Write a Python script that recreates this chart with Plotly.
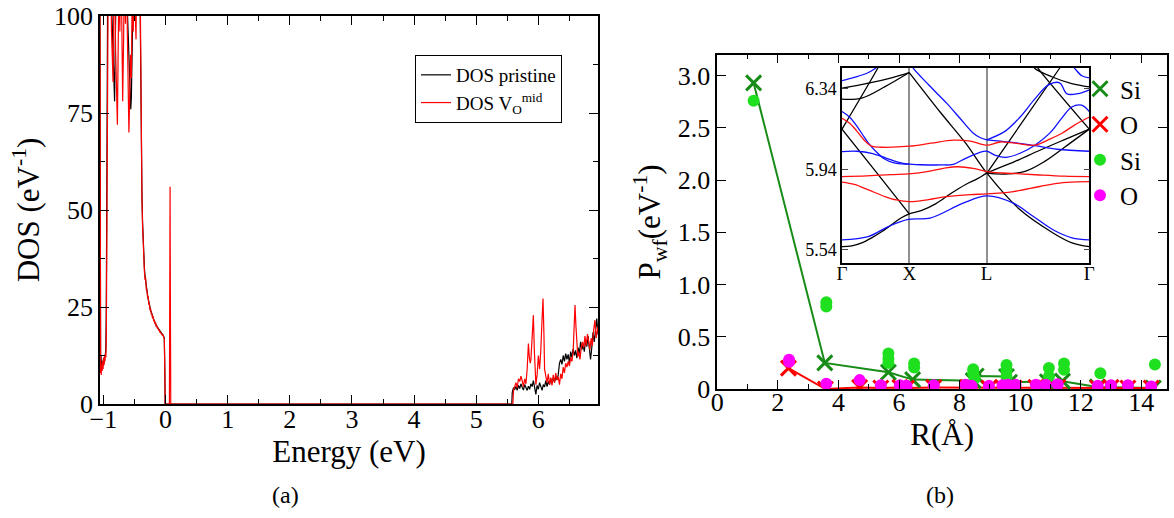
import plotly.graph_objects as go

FONT = "Liberation Serif"

# ---------------- Panel (a): DOS ----------------
E_pristine = [-1.06, -1.054, -1.05, -1.045, -1.04, -1.032, -1.025, -1.018, -1.01, -1.0, -0.99, -0.98, -0.97,
              -0.962, -0.955, -0.948, -0.94, -0.93, -0.91, -0.89, -0.87, -0.855, -0.84, -0.83, -0.82, -0.81,
              -0.795, -0.78, -0.76, -0.74, -0.72, -0.70, -0.68, -0.66, -0.64, -0.62, -0.60, -0.585, -0.57,
              -0.56, -0.55, -0.54, -0.52, -0.50, -0.48, -0.46, -0.44, -0.42, -0.41, -0.40, -0.39, -0.38,
              -0.37, -0.36, -0.35, -0.34, -0.33, -0.32, -0.31, -0.30, -0.29, -0.28, -0.27, -0.26, -0.25,
              -0.24, -0.23, -0.22, -0.21, -0.20, -0.19, -0.18, -0.17, -0.16, -0.15, -0.14, -0.13, -0.12,
              -0.11, -0.10, -0.09, -0.08, -0.07, -0.06, -0.05, -0.04, -0.03, -0.02, -0.012, -0.006, 0.2,
              5.5, 5.572, 5.58, 5.60, 5.62, 5.64, 5.66, 5.68, 5.70, 5.72, 5.74, 5.76, 5.78, 5.80, 5.82, 5.84,
              5.86, 5.88, 5.90, 5.92, 5.94, 5.96, 5.98, 6.00, 6.02, 6.04, 6.06, 6.08, 6.10, 6.12, 6.14, 6.16,
              6.18, 6.20, 6.22, 6.24, 6.26, 6.28, 6.30, 6.32, 6.34, 6.36, 6.38, 6.40, 6.42, 6.44, 6.46, 6.48,
              6.50, 6.52, 6.54, 6.56, 6.58, 6.60, 6.62, 6.64, 6.66, 6.68, 6.70, 6.72, 6.74, 6.76, 6.78, 6.80,
              6.82, 6.84, 6.86, 6.88, 6.90, 6.92, 6.94, 6.96]
DOS_pristine = [130, 65, 13, 10, 12.5, 10.5, 9, 11, 10, 11.5, 10.5, 12, 12.5,
                14, 22, 45, 80, 115, 125, 112, 103, 96, 88, 80, 78, 92,
                108, 102, 115, 106, 118, 104, 112, 100, 110, 104, 95, 86, 82,
                76, 79, 92, 108, 104, 118, 110, 125, 118, 104, 80, 62, 54,
                47, 42, 38, 35, 33, 31.5, 30.5, 29, 28.5, 27, 26.5, 25.5, 25,
                24, 23.8, 23, 22.5, 22.2, 21.8, 21.3, 21, 20.7, 20.3, 20, 19.8, 19.4,
                19.2, 18.9, 18.7, 18.5, 18.3, 18.1, 17.9, 17.7, 17.4, 17, 9, 0, 0,
                0, 0, 3, 4.2, 3.8, 4.5, 3.5, 4.8, 4, 5.2, 4.3, 3.6, 5.0, 4.2, 3.5, 4.6,
                3.8, 5.2, 4.5, 6.0, 4.0, 2.5, 4.8, 3.8, 5.5, 4.2, 3.5, 5.0, 4.4, 6.0, 4.5, 5.8,
                5.0, 6.5, 5.4, 6.8, 5.6, 7.0, 6.2, 7.5, 10.5, 11.5, 10.2, 12.5, 11, 13, 11.5, 12.8,
                10.5, 13.5, 12, 14.2, 12.5, 13.8, 11.8, 14.5, 13, 16, 14, 15.2, 13.5, 16.5, 14.8, 17.5,
                15, 11.5, 14.5, 18.5, 16, 20, 22, 18]

E_vac = [-1.06, -1.054, -1.05, -1.045, -1.04, -1.035, -1.028, -1.02, -1.012, -1.005, -0.998, -0.99, -0.982,
         -0.975, -0.968, -0.96, -0.953, -0.946, -0.94, -0.93, -0.915, -0.90, -0.885, -0.87, -0.855, -0.845,
         -0.835, -0.82, -0.805, -0.79, -0.775, -0.765, -0.75, -0.735, -0.72, -0.705, -0.69, -0.675, -0.66,
         -0.645, -0.63, -0.615, -0.60, -0.59, -0.578, -0.565, -0.55, -0.535, -0.52, -0.505, -0.49, -0.475,
         -0.46, -0.44, -0.42, -0.41, -0.40, -0.39, -0.38, -0.37, -0.36, -0.35, -0.34, -0.33, -0.32, -0.31,
         -0.30, -0.29, -0.28, -0.27, -0.26, -0.25, -0.24, -0.23, -0.22, -0.21, -0.20, -0.19, -0.18, -0.17,
         -0.16, -0.15, -0.14, -0.13, -0.12, -0.11, -0.10, -0.09, -0.08, -0.07, -0.06, -0.05, -0.04, -0.03,
         -0.02, -0.012, -0.006, 0.062, 0.068, 0.073, 0.078, 0.084, 0.2,
         5.5, 5.59, 5.60, 5.62, 5.64, 5.66, 5.68, 5.70, 5.72, 5.74, 5.76, 5.78, 5.80, 5.82, 5.84, 5.855,
         5.87, 5.88, 5.90, 5.92, 5.935, 5.95, 5.96, 5.98, 6.00, 6.02, 6.04, 6.06, 6.075, 6.09, 6.10, 6.12,
         6.14, 6.16, 6.18, 6.20, 6.22, 6.24, 6.26, 6.28, 6.30, 6.32, 6.34, 6.36, 6.38, 6.40, 6.42, 6.44,
         6.46, 6.48, 6.50, 6.52, 6.54, 6.56, 6.575, 6.59, 6.605, 6.62, 6.635, 6.65, 6.67, 6.69, 6.71, 6.73,
         6.75, 6.77, 6.79, 6.81, 6.83, 6.85, 6.87, 6.89, 6.91, 6.93, 6.95, 6.96]
DOS_vac = [135, 70, 14, 8, 11, 7.5, 10, 8.5, 11, 9, 12, 10, 12.5,
           11, 13, 12, 18, 40, 85, 120, 135, 108, 120, 96, 86, 83,
           100, 118, 92, 80, 72, 88, 110, 96, 125, 100, 78, 94, 115,
           98, 120, 96, 84, 70, 78, 90, 84, 110, 96, 120, 102, 94,
           125, 118, 130, 106, 79, 61, 53, 46, 41, 38.5, 34, 32, 32.5, 29.5,
           29.5, 27.5, 27.8, 25.6, 25.9, 24.2, 24.6, 23.1, 23.4, 22.1, 22.6, 21.3, 21.7, 20.6,
           21, 19.9, 20.2, 19.4, 19.6, 18.9, 19.1, 18.4, 18.6, 18.0, 18.2, 17.7, 17.8, 17.2,
           16.8, 8, 0, 0, 28, 56, 26, 0, 0,
           0, 0, 3.5, 4.5, 5.5, 4.2, 6.5, 5.8, 7.2, 6.0, 4.5, 6.5, 5.2, 9, 15.6, 12,
           10.5, 11.5, 18, 22.9, 14, 8, 5, 7.5, 12.5, 9, 14, 22, 27.2, 18, 9, 7.2,
           5.5, 7.8, 5.0, 6.8, 4.8, 7.5, 5.5, 8.0, 6.2, 7.0, 5.0, 7.8, 6.5, 9.5, 8, 10.5,
           9.5, 11.0, 9.8, 12.0, 11, 13.5, 18, 25.5, 20, 14, 12.2, 13.5, 11.5, 14.5, 16, 14.5,
           17.5, 15, 18, 16, 14, 17, 15, 19, 21.6, 17, 20, 20]

# ---------------- Panel (b): P_wf vs R ----------------
R_si_x = [1.2, 3.55, 5.65, 6.45, 8.45, 8.55, 9.55, 9.65, 10.9, 11.4, 12.55, 14.4]
P_si_x = [2.93, 0.25, 0.16, 0.09, 0.08, 0.125, 0.12, 0.065, 0.07, 0.075, 0.02, 0.01]

R_o_x = [2.35, 3.57, 4.7, 5.4, 6.03, 6.25, 7.15, 8.26, 8.97, 9.42, 9.8, 10.52, 10.85, 11.24,
         12.56, 13.0, 13.56, 14.33]
P_o_x = [0.2, 0.0, 0.015, 0.01, 0.015, 0.01, 0.015, 0.015, 0.01, 0.015, 0.01, 0.015, 0.01, 0.015,
         0.01, 0.015, 0.01, 0.01]

R_si_c = [1.2, 3.6, 3.6, 5.65, 5.65, 5.65, 6.5, 6.5, 8.45, 8.45, 8.5, 9.55, 9.55, 9.55, 10.95, 10.95,
          11.45, 11.45, 12.65, 14.45]
P_si_c = [2.76, 0.83, 0.79, 0.34, 0.29, 0.25, 0.245, 0.205, 0.19, 0.15, 0.10, 0.23, 0.18, 0.12, 0.2, 0.12,
          0.245, 0.185, 0.15, 0.235]

R_o_c = [2.37, 2.37, 3.6, 4.7, 5.4, 6.03, 6.25, 7.15, 8.2, 8.4, 8.97, 9.42, 9.6, 9.85, 10.52, 10.85,
         11.24, 12.56, 13.0, 13.56, 14.33]
P_o_c = [0.28, 0.26, 0.05, 0.085, 0.035, 0.035, 0.03, 0.035, 0.04, 0.03, 0.03, 0.035, 0.04, 0.04, 0.04,
         0.04, 0.045, 0.03, 0.035, 0.035, 0.025]

# ---------------- Inset: band structure ----------------
k_ticks = [0.0, 0.272, 0.585, 1.0]
k_labels = ["Γ", "X", "L", "Γ"]
E_ticks = [5.54, 5.94, 6.34]

bands_black = [
    ([0, 0.04, 0.08, 0.12, 0.16, 0.2, 0.24, 0.272, 0.32, 0.38, 0.44, 0.5, 0.55, 0.586, 0.7, 0.8, 0.9, 1.0],
     [5.556, 5.56, 5.575, 5.60, 5.63, 5.665, 5.70, 5.719, 5.735, 5.77, 5.82, 5.865, 5.895, 5.921, 5.98, 6.035, 6.088, 6.14]),
    ([0, 0.136, 0.272], [6.14, 5.93, 5.719]),
    ([0, 0.146, 0.16], [6.14, 6.446, 6.48]),
    ([0, 0.107, 0.2, 0.272], [6.343, 6.368, 6.395, 6.421]),
    ([0, 0.08, 0.174, 0.272], [6.289, 6.294, 6.351, 6.421]),
    ([0.272, 0.4, 0.5, 0.586, 0.72, 0.855, 0.93, 1.0], [6.421, 6.22, 6.07, 5.921, 5.739, 5.623, 5.575, 5.556]),
    ([0.586, 0.882, 0.9], [5.921, 6.446, 6.478]),
    ([0.586, 0.66, 0.74, 0.82, 0.9, 1.0], [5.921, 5.917, 5.93, 5.98, 6.05, 6.14]),
    ([0.77, 0.78, 0.848, 0.929, 1.0], [6.46, 6.441, 6.40, 6.366, 6.35]),
    ([0.785, 0.794, 1.0], [6.46, 6.441, 6.14]),
]
bands_blue = [
    ([0, 0.106, 0.187, 0.268, 0.356, 0.49, 0.586, 0.693, 0.774, 0.855, 0.93, 1.0],
     [5.59, 5.606, 5.656, 5.692, 5.698, 5.772, 5.808, 5.772, 5.706, 5.639, 5.60, 5.59]),
    ([0, 0.03, 0.06, 0.09, 0.107, 0.14, 0.174, 0.21, 0.241, 0.272],
     [6.227, 6.2, 6.155, 6.1, 6.07, 6.025, 5.99, 5.972, 5.967, 5.966]),
    ([0, 0.06, 0.12, 0.18, 0.23, 0.272], [6.028, 6.03, 6.02, 5.995, 5.975, 5.966]),
    ([0.272, 0.32, 0.4, 0.45, 0.5, 0.558, 0.586, 0.62, 0.66, 0.72, 0.78, 0.84, 0.888, 0.929, 0.969, 1.0],
     [5.966, 5.963, 5.962, 5.965, 5.995, 6.025, 6.03, 6.01, 6.0, 6.02, 6.06, 6.12, 6.193, 6.25, 6.259, 6.227]),
    ([0.28, 0.288, 0.35, 0.423, 0.477, 0.531, 0.56, 0.586],
     [6.46, 6.443, 6.36, 6.269, 6.194, 6.12, 6.097, 6.087]),
    ([0.586, 0.66, 0.72, 0.78, 0.835, 0.88, 0.91, 0.96, 1.0],
     [6.087, 6.13, 6.2, 6.29, 6.36, 6.37, 6.315, 6.318, 6.335]),
    ([0.586, 0.68, 0.78, 0.87, 1.0], [6.087, 6.075, 6.058, 6.04, 6.03]),
    ([0.92, 0.94, 0.97, 1.0], [6.47, 6.443, 6.405, 6.395]),
    ([0, 0.053, 0.107, 0.14, 0.16], [6.381, 6.398, 6.421, 6.446, 6.46]),
]
bands_red = [
    ([0, 0.05, 0.107, 0.174, 0.22, 0.272, 0.35, 0.423, 0.52, 0.586, 0.693, 0.8, 0.88, 0.95, 1.0],
     [5.877, 5.865, 5.838, 5.805, 5.788, 5.78, 5.79, 5.805, 5.815, 5.818, 5.83, 5.855, 5.872, 5.878, 5.879]),
    ([0, 0.1, 0.2, 0.272, 0.35, 0.42, 0.47, 0.53, 0.586, 0.65, 0.72, 0.8, 0.9, 1.0],
     [5.904, 5.908, 5.914, 5.918, 5.93, 5.948, 5.953, 5.945, 5.929, 5.922, 5.918, 5.912, 5.906, 5.904]),
    ([0, 0.03, 0.06, 0.09, 0.12, 0.16, 0.272, 0.36, 0.45, 0.52, 0.586, 0.64, 0.7, 0.78, 0.84, 0.888, 0.94, 1.0],
     [6.194, 6.17, 6.13, 6.085, 6.055, 6.05, 6.055, 6.07, 6.085, 6.08, 6.06, 6.076, 6.07, 6.06, 6.09, 6.118, 6.16, 6.2]),
]

fig = go.Figure()

# DOS traces
fig.add_trace(go.Scatter(x=E_pristine, y=DOS_pristine, mode="lines", name="DOS pristine",
                         line=dict(color="black", width=1.2), xaxis="x", yaxis="y", legend="legend"))
fig.add_trace(go.Scatter(x=E_vac, y=DOS_vac, mode="lines", name="DOS V<sub>O</sub><sup>mid</sup>",
                         line=dict(color="#ff0000", width=1.2), xaxis="x", yaxis="y", legend="legend"))

# Band structure traces
for kk, ee in bands_black:
    fig.add_trace(go.Scatter(x=kk, y=ee, mode="lines", line=dict(color="black", width=1.3, shape="spline"),
                             xaxis="x3", yaxis="y3", showlegend=False, hoverinfo="skip"))
for kk, ee in bands_blue:
    fig.add_trace(go.Scatter(x=kk, y=ee, mode="lines", line=dict(color="#1010ff", width=1.3, shape="spline"),
                             xaxis="x3", yaxis="y3", showlegend=False, hoverinfo="skip"))
for kk, ee in bands_red:
    fig.add_trace(go.Scatter(x=kk, y=ee, mode="lines", line=dict(color="#ff1010", width=1.3, shape="spline"),
                             xaxis="x3", yaxis="y3", showlegend=False, hoverinfo="skip"))

DG = "#178c17"
LG = "#1fe01f"
# P_wf traces
fig.add_trace(go.Scatter(x=R_si_x, y=P_si_x, mode="lines", line=dict(color=DG, width=2),
                         xaxis="x2", yaxis="y2", showlegend=False))
fig.add_trace(go.Scatter(x=R_o_x, y=P_o_x, mode="lines", line=dict(color="#ff0000", width=2),
                         xaxis="x2", yaxis="y2", showlegend=False))
fig.add_trace(go.Scatter(x=R_si_x, y=P_si_x, mode="markers", name="Si",
                         marker=dict(symbol="x-thin", size=15, line=dict(color=DG, width=3), color=DG),
                         xaxis="x2", yaxis="y2", legend="legend2"))
fig.add_trace(go.Scatter(x=R_o_x, y=P_o_x, mode="markers", name="O",
                         marker=dict(symbol="x-thin", size=15, line=dict(color="#ff0000", width=3), color="#ff0000"),
                         xaxis="x2", yaxis="y2", legend="legend2"))
fig.add_trace(go.Scatter(x=R_si_c, y=P_si_c, mode="markers", name="Si",
                         marker=dict(symbol="circle", size=12, color=LG),
                         xaxis="x2", yaxis="y2", legend="legend2"))
fig.add_trace(go.Scatter(x=R_o_c, y=P_o_c, mode="markers", name="O",
                         marker=dict(symbol="circle", size=12, color="#ff00ff"),
                         xaxis="x2", yaxis="y2", legend="legend2"))

# Layout geometry (page body margin is removed below, so no offset is needed)
W, H = 1174, 518
OFF = 0
ML, MR, MT, MB = 100 - OFF, W - (1167 - OFF), 16 - OFF, H - (404 - OFF)
PW, PH = W - ML - MR, H - MT - MB


def clamp(v):
    return max(0.0, min(1.0, v))


def px(xp):
    return (xp - OFF - ML) / PW


def py(yp):
    return (H - MB - (yp - OFF)) / PH


def dx(a, b):
    return [clamp(px(a)), clamp(px(b))]


def dy(top, bottom):
    return [clamp(py(bottom)), clamp(py(top))]


axis_common = dict(showline=True, linecolor="black", linewidth=1.5, mirror="allticks",
                   ticks="inside", tickcolor="black", showgrid=False, zeroline=False, automargin=False,
                   ticklabeloverflow="allow",
                   tickfont=dict(family=FONT, size=26, color="black"))

fig.update_layout(
    template="none",
    width=W, height=H, margin=dict(l=ML, r=MR, t=MT, b=MB, pad=0),
    paper_bgcolor="white", plot_bgcolor="white",
    font=dict(family=FONT, color="black"),
    xaxis=dict(domain=dx(100, 598), range=[-1.055, 6.96], anchor="y",
               tickvals=[-1, 0, 1, 2, 3, 4, 5, 6], ticklen=9, tickwidth=1.2, ticklabelstandoff=-9,
               minor=dict(dtick=0.5, tick0=0, ticks="inside", ticklen=5, tickcolor="black"),
               title=dict(text="Energy (eV)", font=dict(family=FONT, size=31), standoff=2),
               **axis_common),
    yaxis=dict(domain=dy(16, 404), range=[0, 100], anchor="x",
               tickvals=[0, 25, 50, 75, 100], ticklen=9, tickwidth=1.2,
               minor=dict(dtick=12.5, tick0=0, ticks="inside", ticklen=5, tickcolor="black"),
               title=dict(text="DOS (eV<sup>-1</sup>)", font=dict(family=FONT, size=31), standoff=5),
               **axis_common),
    xaxis2=dict(domain=dx(717.3, 1167), range=[0, 14.85], anchor="y2",
                tickvals=[0, 2, 4, 6, 8, 10, 12, 14], ticklen=9, tickwidth=1.2, ticklabelstandoff=-11,
                minor=dict(dtick=1, tick0=0, ticks="inside", ticklen=5, tickcolor="black"),
                title=dict(text="R(Å)", font=dict(family=FONT, size=31), standoff=2),
                **axis_common),
    yaxis2=dict(domain=dy(54.7, 389), range=[0, 3.2], anchor="x2",
                tickvals=[0, 0.5, 1, 1.5, 2, 2.5, 3],
                ticktext=["0", "0.5", "1.0", "1.5", "2.0", "2.5", "3.0"], ticklen=9, tickwidth=1.2,
                title=dict(text="P<sub>wf</sub>(eV<sup>-1</sup>)", font=dict(family=FONT, size=31), standoff=8),
                **axis_common),
    xaxis3=dict(domain=dx(842, 1089.3), range=[0, 1], anchor="y3",
                tickvals=k_ticks, ticktext=k_labels, ticks="", showline=True, linecolor="black",
                linewidth=1.5, mirror=True, showgrid=True, gridcolor="#909090", gridwidth=1.5,
                ticklabelstandoff=-8,
                zeroline=False, automargin=False, tickfont=dict(family=FONT, size=19, color="black")),
    yaxis3=dict(domain=dy(67.7, 263), range=[5.475, 6.445], anchor="x3",
                tickvals=E_ticks, ticktext=["5.54", "5.94", "6.34"], ticks="inside", ticklen=6,
                showline=True, linecolor="black", linewidth=1.5, mirror="allticks", showgrid=False,
                zeroline=False, automargin=False, tickfont=dict(family=FONT, size=18, color="black")),
    legend=dict(x=px(415), y=py(55), xanchor="left", yanchor="top",
                bordercolor="black", borderwidth=1, bgcolor="white",
                font=dict(family=FONT, size=19, color="black"), tracegroupgap=0),
    legend2=dict(x=px(1080), y=py(66), xanchor="left", yanchor="top",
                 bgcolor="rgba(0,0,0,0)", borderwidth=0,
                 font=dict(family=FONT, size=25, color="black")),
    annotations=[
        dict(text="(a)", x=px(285), y=py(495), xref="paper", yref="paper", showarrow=False,
             xanchor="center", yanchor="middle", font=dict(family=FONT, size=24, color="black")),
        dict(text="(b)", x=px(940), y=py(495), xref="paper", yref="paper", showarrow=False,
             xanchor="center", yanchor="middle", font=dict(family=FONT, size=24, color="black")),
    ],
)

fig.write_html("out.html", config={"displayModeBar": False},
               post_script="document.body.style.margin='0px';")
